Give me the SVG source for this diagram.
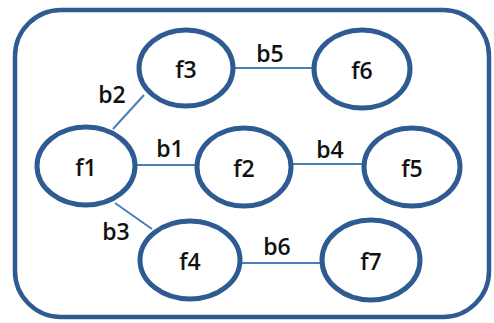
<svg xmlns="http://www.w3.org/2000/svg" width="494" height="323" viewBox="0 0 494 323">
  <style>
    .frame { fill: #ffffff; stroke: #2f5b93; stroke-width: 4.5; }
    .node ellipse { fill: #ffffff; stroke: #2f5b93; stroke-width: 5; }
    .node text, .label { font-family: "Open Sans", "Liberation Sans", Arial, sans-serif; font-size: 23px; font-weight: 600; fill: #111111; text-anchor: middle; }
    .edge { stroke: #4a7ebb; stroke-width: 2; fill: none; }
  </style>
  <rect width="494" height="323" fill="#ffffff"/>
  <rect class="frame" x="15" y="10" width="474" height="307" rx="46" ry="46"/>

  <g id="connectors">
    <line class="edge" x1="235" y1="68" x2="313" y2="68"/>
    <line class="edge" x1="113" y1="129" x2="144" y2="95"/>
    <line class="edge" x1="135" y1="165" x2="197" y2="165"/>
    <line class="edge" x1="292" y1="164" x2="363" y2="164"/>
    <line class="edge" x1="115" y1="203" x2="152" y2="229"/>
    <line class="edge" x1="241" y1="263" x2="321" y2="263"/>
    <text class="label" x="112" y="103">b2</text>
    <text class="label" x="170" y="157">b1</text>
    <text class="label" x="270" y="62">b5</text>
    <text class="label" x="330" y="158">b4</text>
    <text class="label" x="116" y="240">b3</text>
    <text class="label" x="277" y="255">b6</text>
  </g>

  <g id="f3" class="node"><ellipse cx="186" cy="68" rx="47" ry="38"/><text x="186" y="78">f3</text></g>
  <g id="f6" class="node"><ellipse cx="362" cy="69" rx="48" ry="39"/><text x="362" y="79">f6</text></g>
  <g id="f1" class="node"><ellipse cx="86" cy="166" rx="49" ry="39"/><text x="86" y="176">f1</text></g>
  <g id="f2" class="node"><ellipse cx="244" cy="167" rx="47" ry="39"/><text x="244" y="177">f2</text></g>
  <g id="f5" class="node"><ellipse cx="412" cy="167" rx="48" ry="39"/><text x="412" y="177">f5</text></g>
  <g id="f4" class="node"><ellipse cx="190" cy="260" rx="50" ry="39"/><text x="190" y="270">f4</text></g>
  <g id="f7" class="node"><ellipse cx="371" cy="260" rx="49" ry="40"/><text x="371" y="270">f7</text></g>
</svg>
